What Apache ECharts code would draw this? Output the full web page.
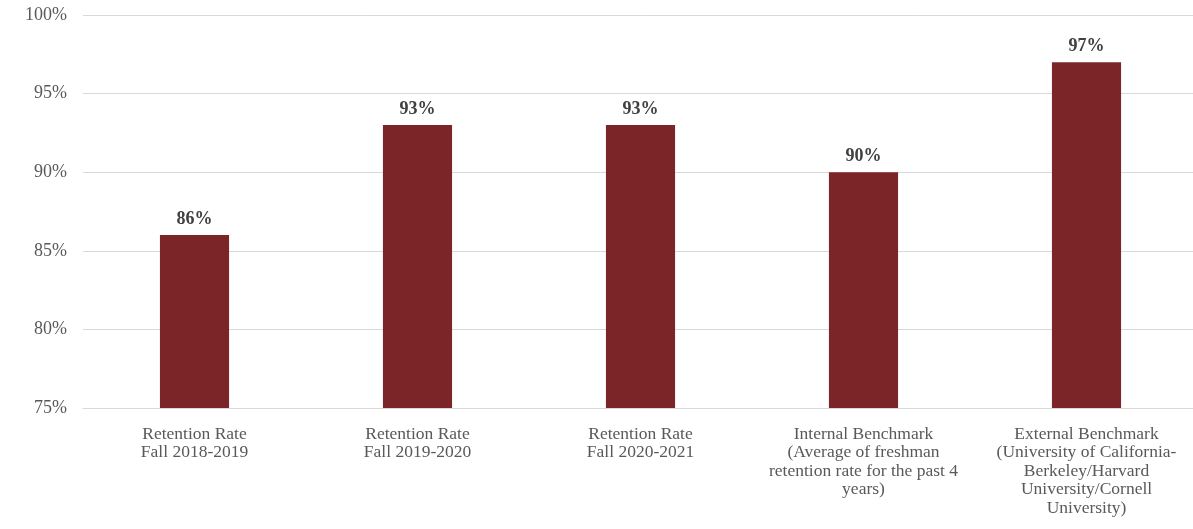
<!DOCTYPE html>
<html><head><meta charset="utf-8">
<script src="https://cdn.jsdelivr.net/npm/echarts@6/dist/echarts.min.js"></script>
<style>html,body{margin:0;padding:0;background:#fff;overflow:hidden}#c{width:1198px;height:529px}</style>
</head><body><div id="c"></div>
<script>
var categories = [
  "Retention Rate\nFall 2018-2019",
  "Retention Rate\nFall 2019-2020",
  "Retention Rate\nFall 2020-2021",
  "Internal Benchmark\n(Average of freshman\nretention rate for the past 4\nyears)",
  "External Benchmark\n(University of California-\nBerkeley/Harvard\nUniversity/Cornell\nUniversity)"
];
var values = [86, 93, 93, 90, 97];
var yTicks = [75, 80, 85, 90, 95, 100];

var chart = echarts.init(document.getElementById('c'));
chart.setOption({
  animation: false,
  grid: {left: 83, right: 0, top: 15, bottom: 121, containLabel: false},
  xAxis: {
    type: 'category', data: categories,
    axisLine: {show: true, lineStyle: {color: '#d9d9d9'}},
    axisTick: {show: false},
    axisLabel: {interval: 0, color: '#595959', fontFamily: 'Liberation Serif', fontSize: 17.5, lineHeight: 18.5, margin: 17}
  },
  yAxis: {
    type: 'value', min: yTicks[0], max: yTicks[yTicks.length-1], interval: 5,
    axisLine: {show: false}, axisTick: {show: false},
    splitLine: {lineStyle: {color: '#d9d9d9'}},
    axisLabel: {color: '#595959', fontFamily: 'Liberation Serif', fontSize: 18, margin: 16, formatter: '{value}%'}
  },
  series: [{
    type: 'bar', data: values, barWidth: '31%',
    itemStyle: {color: '#7B2529'},
    label: {show: true, position: 'top', formatter: '{c}%', color: '#404040', fontFamily: 'Liberation Serif', fontWeight: 'bold', fontSize: 18, distance: 7}
  }]
});
</script></body></html>
